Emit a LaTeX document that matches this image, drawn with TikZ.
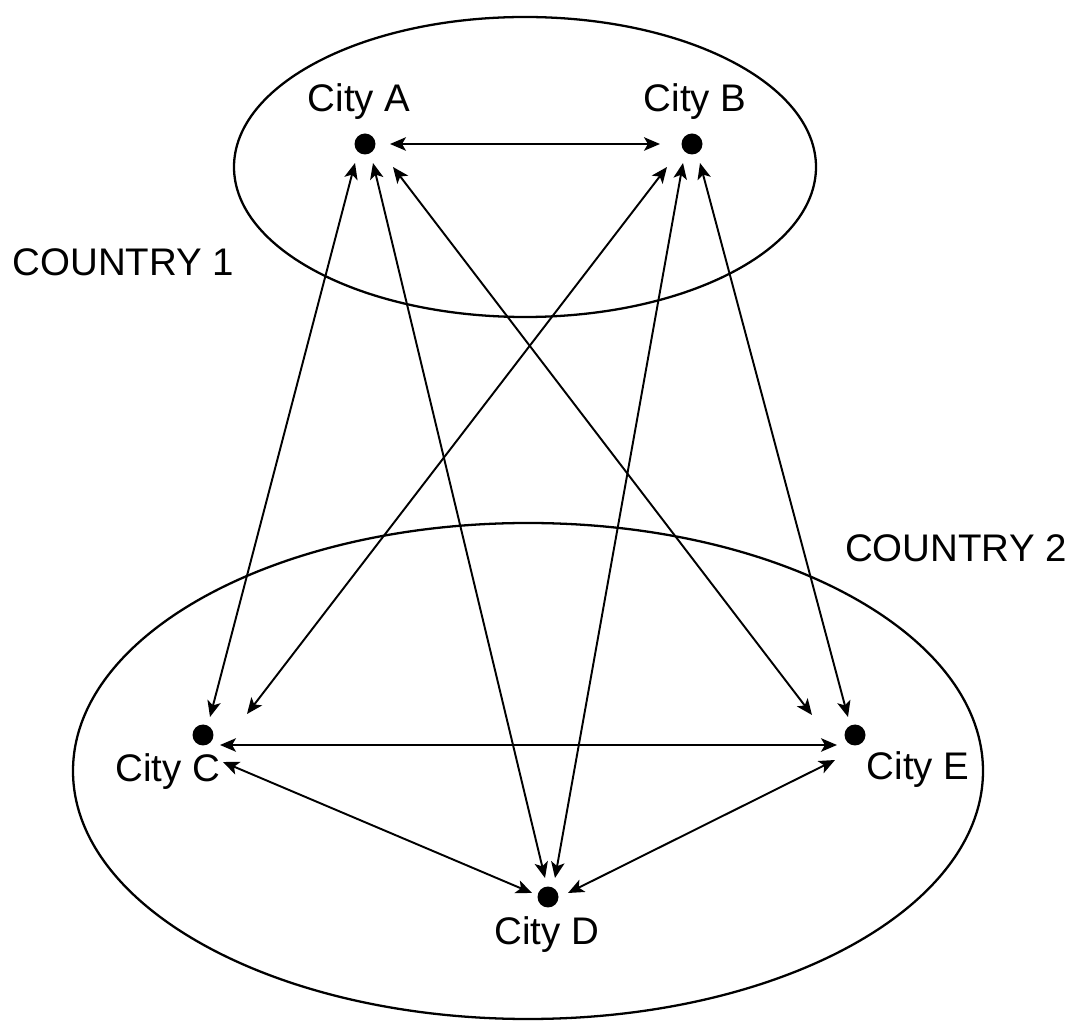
\documentclass[tikz,border=0pt]{standalone}
\usepackage{fontspec}
\setmainfont{Liberation Sans}
\usetikzlibrary{arrows.meta}
\begin{document}
\begin{tikzpicture}[x=0.02cm,y=-0.02cm,
  city/.style={circle,fill=black,inner sep=0pt,minimum size=0.42cm},
  lbl/.style={font=\fontsize{21.9}{26}\selectfont,inner sep=0pt,anchor=center},
  region/.style={draw=black,line width=1.3pt},
  link/.style={draw=black,line width=1.1pt,{Stealth[length=0.32cm,width=0.27cm,inset=0.08cm]}-{Stealth[length=0.32cm,width=0.27cm,inset=0.08cm]}}]
\useasboundingbox (0,0) rectangle (1083,1023);
% regions
\draw[region] (525,167) ellipse [x radius=291, y radius=150];
\draw[region] (528,771) ellipse [x radius=455, y radius=248];
\node[lbl] (c1) at (123.5,262.5) {COUNTRY 1};
\node[lbl] (c2) at (956,548) {COUNTRY 2};
% cities
\node[city] (A) at (365,144) {};
\node[city] (B) at (692,144) {};
\node[city] (C) at (203,735) {};
\node[city] (D) at (548,897) {};
\node[city] (E) at (855,735) {};
\node[lbl] (lA) at (359,101.5) {City A};
\node[lbl] (lB) at (695,101.5) {City B};
\node[lbl] (lC) at (168,772) {City C};
\node[lbl] (lD) at (547,935) {City D};
\node[lbl] (lE) at (918,770) {City E};
% connectors
\draw[link] ([shift={(25,0)}]A.center) -- ([shift={(-32,0)}]B.center);
\draw[link] ([shift={(-10,19)}]A.center) -- ([shift={(7,-18)}]C.center);
\draw[link] ([shift={(8,19)}]A.center) -- ([shift={(-3,-19)}]D.center);
\draw[link] ([shift={(28,23)}]A.center) -- ([shift={(-43,-20)}]E.center);
\draw[link] ([shift={(-25,23)}]B.center) -- ([shift={(44,-21)}]C.center);
\draw[link] ([shift={(-9,19)}]B.center) -- ([shift={(7,-19)}]D.center);
\draw[link] ([shift={(8,19)}]B.center) -- ([shift={(-7,-18)}]E.center);
\draw[link] ([shift={(17,10)}]C.center) -- ([shift={(-18,10)}]E.center);
\draw[link] ([shift={(20,27)}]C.center) -- ([shift={(-16,-4)}]D.center);
\draw[link] ([shift={(-20,25)}]E.center) -- ([shift={(20,-4)}]D.center);
\end{tikzpicture}
\end{document}
